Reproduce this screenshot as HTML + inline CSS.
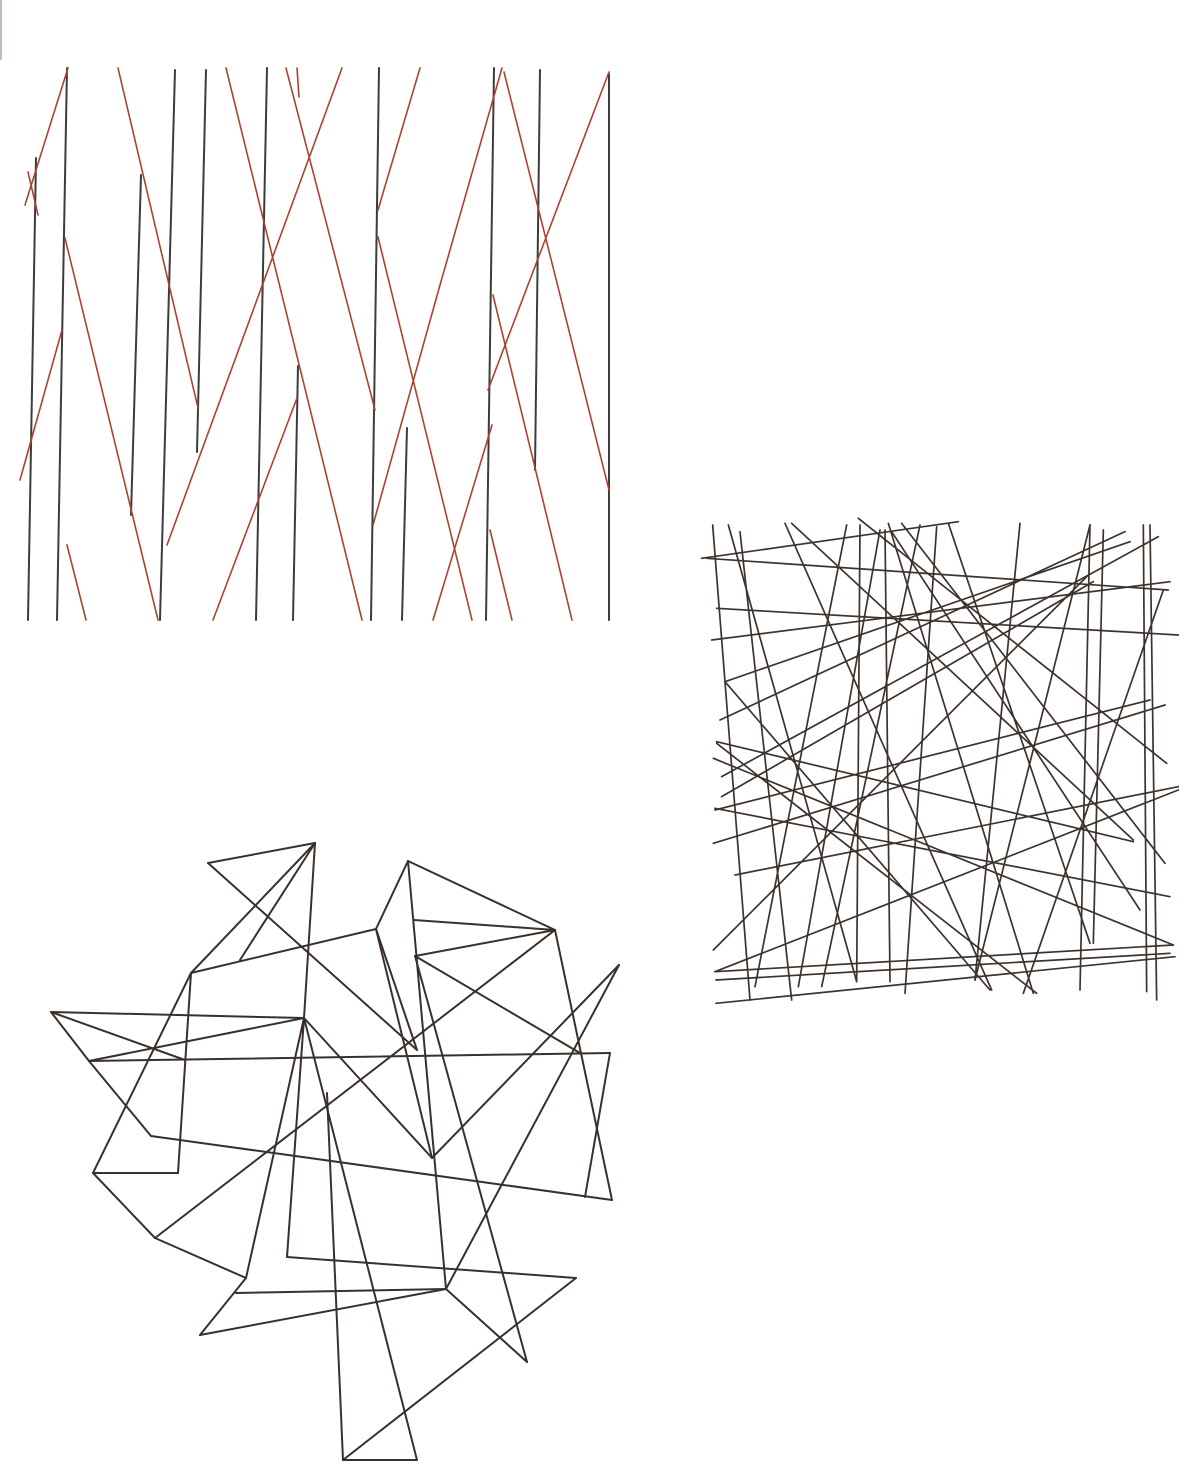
<!DOCTYPE html>
<html>
<head>
<meta charset="utf-8">
<style>
  html,body{margin:0;padding:0;background:#fff;}
  svg{display:block;}
</style>
</head>
<body>
<svg id="art" width="1200" height="1465" viewBox="0 0 1200 1465" xmlns="http://www.w3.org/2000/svg">
  <rect x="0" y="0" width="1200" height="1465" fill="#ffffff"/>
  <rect x="0" y="0" width="2" height="60" fill="#c9b8b8"/>
  <g id="topPanel"></g>
  <g id="rightPanel"></g>
  <g id="bottomPanel"></g>
</svg>
<script>
// ---- Top-left panel: black vertical strokes [x1,y1,x2,y2]
const topBlackLines = [
  [36,158,28,620],[67,68,57,620],[141,175,131,515],[175,70,160,620],
  [206,70,197,452],[267,68,256,620],[298,366,293,620],[379,68,371,620],
  [407,428,402,620],[494,68,486,620],[540,70,535,470],[609,74,609,620]
];
// ---- Top-left panel: red diagonal strokes
const topRedLines = [
  [68,68,25,205],[28,172,38,215],[118,68,198,408],[65,238,158,620],
  [62,330,20,480],[67,545,86,620],[226,68,362,620],[167,545,342,68],
  [213,620,297,398],[286,68,375,410],[297,68,299,97],[373,525,440,285],
  [440,285,502,68],[378,210,420,68],[378,237,472,620],[433,620,492,425],
  [490,530,512,620],[488,390,609,72],[493,295,572,620],[504,72,609,490]
];
// ---- Right panel: random lines (crop coordinates, crop origin 700,510, 3x)
const rightLines = [
  [38,45,150,1470],[85,45,470,1415],[120,65,275,1470],[255,40,875,1440],
  [275,40,1300,990],[440,45,165,1430],[480,45,470,1415],[540,60,295,1430],
  [555,60,570,1415],[565,40,1000,1450],[575,65,1320,1200],[605,40,1395,1060],
  [660,45,365,1430],[710,50,615,1450],[745,40,1170,1300],[475,25,1400,760],
  [960,40,825,1410],[1170,45,825,1410],[1170,45,1140,1440],[1210,60,1180,1300],
  [1330,45,1340,1445],[1350,45,1370,1470],[1390,240,970,1450],[5,145,775,35],
  [20,145,1405,240],[35,390,1410,215],[50,295,1435,375],[75,515,1290,95],
  [75,515,870,1440],[60,630,1275,65],[65,800,1375,80],[65,860,1180,215],
  [45,900,1350,570],[40,1000,1395,585],[105,1095,1435,830],[40,1320,1165,195],
  [45,1385,1435,840],[48,1410,1410,1330],[48,1480,1425,1340],[50,695,1300,995],
  [40,745,1420,1305],[45,895,1410,1160],[50,700,1010,1450],[45,1385,1420,1305]
];
// ---- Bottom-left panel: vertices and edges
const polyVertices = {
  A:[315,843],B:[208,863],C:[191,973],Ci:[240,960],D:[376,929],E:[408,861],
  F:[555,930],G:[414,920],H:[415,956],J:[51,1012],K:[304,1018],L:[89,1061],
  M:[185,1060],V1:[417,1050],AB:[619,965],I:[580,1053],I2:[610,1053],
  N:[151,1136],P:[93,1173],Q:[178,1173],R:[155,1238],S:[246,1278],
  Z:[236,1293],T:[446,1289],X:[287,1257],Y:[576,1278],Z2:[200,1335],
  W:[343,1460],Vb:[417,1460],U:[527,1362],AA:[432,1158],O:[612,1200],
  O2:[585,1197],Wt:[327,1093]
};
const polyEdges = [
  ["A","B"],["B","V1"],["A","C"],["A","Ci"],["C","D"],["A","K"],["K","X"],
  ["K","S"],["K","Vb"],["Wt","W"],["J","K"],["K","L"],["J","L"],["J","M"],
  ["L","I2"],["C","Q"],["C","P"],["P","Q"],["L","N"],["N","O"],["P","R"],
  ["R","S"],["S","Z2"],["Z2","T"],["Z","T"],["X","Y"],["Y","W"],["W","Vb"],
  ["T","U"],["U","H"],["T","AB"],["E","T"],["D","AA"],["K","AA"],["AA","AB"],
  ["E","D"],["E","F"],["G","F"],["H","F"],["H","I"],["F","O"],["I2","O2"],
  ["F","R"],["D","V1"]
];

const NS = "http://www.w3.org/2000/svg";
function mkLine(parent, x1, y1, x2, y2, color, w, opacity) {
  const l = document.createElementNS(NS, "line");
  l.setAttribute("x1", x1); l.setAttribute("y1", y1);
  l.setAttribute("x2", x2); l.setAttribute("y2", y2);
  l.setAttribute("stroke", color);
  l.setAttribute("stroke-width", w);
  l.setAttribute("stroke-linecap", "round");
  if (opacity) l.setAttribute("stroke-opacity", opacity);
  parent.appendChild(l);
  return l;
}
const topG = document.getElementById("topPanel");
topBlackLines.forEach(s => {
  const el = mkLine(topG, s[0], s[1], s[2], s[3], "#3b3d3c", 2);
  
  
});
topRedLines.forEach(s => {
  const el = mkLine(topG, s[0], s[1], s[2], s[3], "#a8452c", 1.6);
  
  
});
const rightG = document.getElementById("rightPanel");
const rx = v => 700 + v / 3, ry = v => 510 + v / 3;
rightLines.forEach(s => {
  const el = mkLine(rightG, rx(s[0]), ry(s[1]), rx(s[2]), ry(s[3]), "#3e322d", 1.7);
  
  
});
const botG = document.getElementById("bottomPanel");
polyEdges.forEach(e => {
  const a = polyVertices[e[0]], b = polyVertices[e[1]];
  const el = mkLine(botG, a[0], a[1], b[0], b[1], "#3a302b", 2);
  
  
});
</script>
</body>
</html>
